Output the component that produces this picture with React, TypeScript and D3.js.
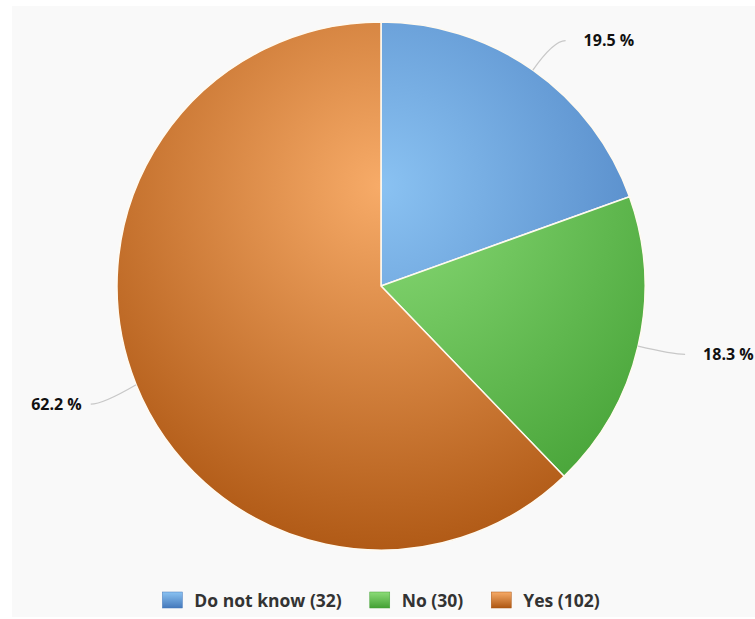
import React from "react";
import * as d3 from "d3";

const categories = ["Do not know", "No", "Yes"];
const counts = [32, 30, 102];
const colorsLight = ["#8ac2f2", "#8cdc78", "#f7ab68"];
const colorsDark = ["#4478bb", "#43a034", "#ad5612"];

const W = 755;
const H = 619;
const cx = 381;
const cy = 286;
const R = 264;
const FONT = "'Open Sans', 'DejaVu Sans', sans-serif";

function measure(text: string, font: string): number {
  const c = document.createElement("canvas");
  const ctx = c.getContext("2d");
  if (!ctx) return text.length * 8;
  ctx.font = font;
  return ctx.measureText(text).width;
}

export default function App() {
  const data = categories.map((c, i) => ({ name: c, value: counts[i], i }));
  const totalCount = d3.sum(counts);
  const pie = d3.pie<any>().value((d) => d.value).sort(null).startAngle(0).endAngle(2 * Math.PI);
  const arcs = pie(data);
  const arcGen = d3.arc<any>().innerRadius(0).outerRadius(R);

  const legendFontSize = 17.5;
  const legendFont = `700 ${legendFontSize}px ${FONT}`;
  const sym = 20;
  const symGap = 12;
  const itemGap = 28;
  const legendTexts = data.map((d) => `${d.name} (${d.value})`);
  const widths = legendTexts.map((t) => measure(t, legendFont));
  const itemWidths = widths.map((w) => sym + symGap + w);
  const total = itemWidths.reduce((a, b) => a + b, 0) + itemGap * (itemWidths.length - 1);
  let lx = cx - total / 2;
  const legendX: number[] = [];
  itemWidths.forEach((w) => {
    legendX.push(lx);
    lx += w + itemGap;
  });
  const legendY = 600;

  return (
    <svg width={W} height={H} style={{ position: "absolute", left: 0, top: 0 }}>
      <rect x={0} y={0} width={W} height={H} fill="#ffffff" />
      <rect x={12} y={6} width={W - 12} height={H - 8} fill="#f9f9f9" />
      <defs>
        {data.map((d, i) => (
          <radialGradient key={i} id={`g${i}`} gradientUnits="userSpaceOnUse" cx={0} cy={-100} r={R * 1.45}>
            <stop offset="0" stopColor={colorsLight[i]} />
            <stop offset="1" stopColor={colorsDark[i]} />
          </radialGradient>
        ))}
        {data.map((d, i) => (
          <linearGradient key={i} id={`l${i}`} x1="0" y1="0" x2="0" y2="1">
            <stop offset="0" stopColor={colorsLight[i]} />
            <stop offset="1" stopColor={colorsDark[i]} />
          </linearGradient>
        ))}
      </defs>
      {arcs.map((a, i) => (
        <path
          key={"p" + i}
          d={arcGen(a) || ""}
          transform={`translate(${cx},${cy})`}
          fill={`url(#g${i})`}
          stroke="#fffaf0"
          strokeWidth={1.5}
          strokeLinejoin="round"
        />
      ))}
      {arcs.map((a, i) => {
        const mid = (a.startAngle + a.endAngle) / 2;
        const s = Math.sin(mid);
        const c = Math.cos(mid);
        const right = s >= 0;
        const ex = cx + R * s;
        const ey = cy - R * c;
        const lr = R + 36;
        const ly = cy - lr * c + (right ? 0 : 6);
        const lxp = cx + lr * s;
        const endX = right ? lxp + 12 : lxp - 12;
        const textX = right ? lxp + 30 : lxp - 21;
        const path = `M${ex},${ey} Q${lxp},${ly} ${endX},${ly}`;
        return (
          <g key={"lab" + i}>
            <path d={path} fill="none" stroke="#c8c8c8" strokeWidth={1.2} />
            <text
              x={textX}
              y={ly + 5.5}
              textAnchor={right ? "start" : "end"}
              fontFamily={FONT}
              fontWeight={700}
              fontSize={16}
              fill="#111"
            >
              {d3.format(".1f")((a.data.value / totalCount) * 100)} %
            </text>
          </g>
        );
      })}
      {data.map((d, i) => (
        <g key={"lg" + i}>
          <rect x={legendX[i]} y={legendY - 8} width={sym} height={16} fill={`url(#l${i})`} stroke={colorsDark[i]} strokeWidth={0.5} />
          <text
            x={legendX[i] + sym + symGap}
            y={legendY + 6.5}
            fontFamily={FONT}
            fontWeight={700}
            fontSize={legendFontSize}
            fill="#333"
          >
            {legendTexts[i]}
          </text>
        </g>
      ))}
    </svg>
  );
}
